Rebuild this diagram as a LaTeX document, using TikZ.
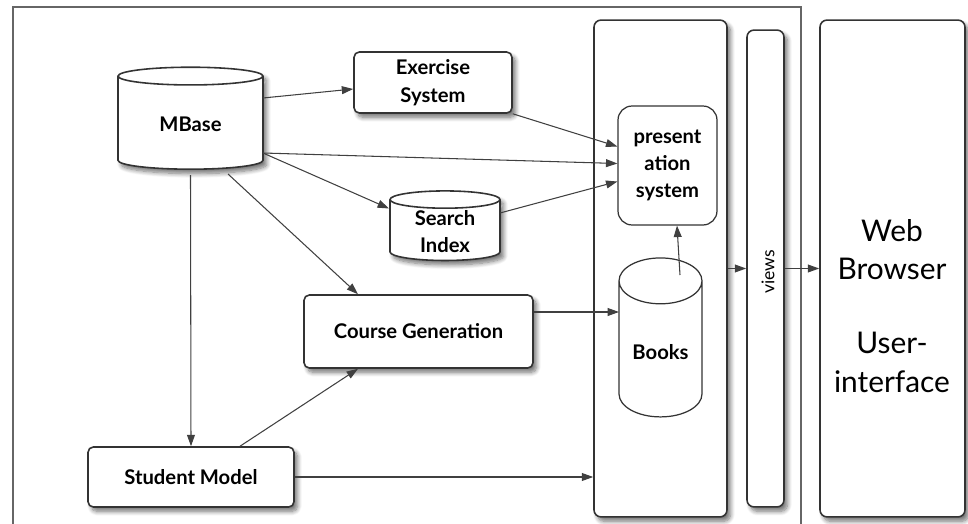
\documentclass[tikz,border=0pt]{standalone}
\usepackage{fontspec}
\setmainfont{Lato}
\usetikzlibrary{shapes.geometric,shadows.blur,arrows.meta,calc}

\begin{document}
\begin{tikzpicture}[
  x = 0.02cm, y = -0.02cm,
  shade/.style = {blur shadow = {shadow xshift = 2pt, shadow yshift = -2.5pt, shadow blur radius = 2.5pt, shadow blur steps = 8, shadow opacity = 55}},
  box/.style = {draw = black!80, line width = 0.9pt, fill = white, rounded corners = 3pt, align = center, font = \bfseries\fontsize{11.5}{16}\selectfont, shade},
  db/.style = {cylinder, shape border rotate = 90, draw = black!80, line width = 0.9pt, fill = white, align = center, inner sep = 1pt, font = \bfseries\fontsize{11.5}{15}\selectfont},
  lane/.style = {draw = black!80, line width = 0.9pt, fill = white, rounded corners = 4pt, shade},
  link/.style = {draw = black!75, line width = 0.6pt, -{Triangle[length = 6.5pt, width = 4.5pt]}}
]
  \useasboundingbox (0,0) rectangle (968,524);
  \draw[black!60, line width = 0.6pt] (13,524) -- (13,7) -- (801,7) -- (801,524);

  \node[lane, minimum width = 2.66cm, minimum height = 9.94cm] (layer) at (660.5,268.5) {};
  \node[lane, minimum width = 0.74cm, minimum height = 9.54cm] (views) at (765.5,268.5) {};
  \node[rotate = 90, font = \fontsize{10}{11}\selectfont] (viewstxt) at (768,272) {views};
  \node[lane, minimum width = 2.9cm, minimum height = 9.94cm] (web) at (892.5,268.5) {};
  \node[align = center, font = \fontsize{17}{22}\selectfont] (webtxt) at (892,306) {Web\\Browser\\[20pt]User-\\interface};

  \node[db, shade, minimum width = 2.9cm, minimum height = 2.04cm, aspect = 0.27] (mbase) at (190.5,124) {MBase};
  \node[box, minimum width = 3.16cm, minimum height = 1.22cm] (exercise) at (433,82.5) {Exercise\\System};
  \node[db, shade, minimum width = 2.2cm, minimum height = 1.14cm, aspect = 0.27] (search) at (445,231.5) {Search\\Index};
  \node[box, minimum width = 4.58cm, minimum height = 1.46cm] (course) at (418.5,331.5) {Course Generation};
  \node[box, minimum width = 4.12cm, minimum height = 1.2cm] (student) at (191,477) {Student Model};
  \node[draw = black!80, line width = 0.7pt, fill = white, rounded corners = 8pt, minimum width = 1.98cm, minimum height = 2.38cm,
        align = center, font = \bfseries\fontsize{11.5}{15.5}\selectfont] (pres) at (667.5,165.5) {present\\ation\\system};
  \node[db, line width = 0.7pt, minimum width = 1.66cm, minimum height = 3.18cm, aspect = 0.77] (books) at (660.5,352.5) {Books};

  \draw[link] ($(mbase.center)+(72.5,-26)$) -- ($(exercise.west)+(0,6.5)$);
  \draw[link] ($(mbase.center)+(72.5,29)$) -- ($(pres.west)+(0,-2)$);
  \draw[link] ($(mbase.center)+(72.5,29)$) -- ($(search.center)+(-56,-23)$);
  \draw[link] ($(mbase.center)+(37.5,50)$) -- ($(course.north)+(-60.5,0)$);
  \draw[link] ($(mbase.center)+(0,51)$) -- (student.north);
  \draw[link] (exercise.south east) -- ($(pres.west)+(0,-19)$);
  \draw[link] ($(search.center)+(55,-18.5)$) -- ($(pres.west)+(0,16)$);
  \draw[link] ($(student.north)+(49,0)$) -- ($(course.south)+(-60.5,0)$);
  \draw[link] (student.east) -- (student.east -| layer.west);
  \draw[link] ($(course.east)+(0,-19.5)$) -- ($(books.center)+(-41.5,-40.5)$);
  \draw[link] ($(books.center)+(19.5,-77.5)$) -- ($(pres.south)+(9.5,0)$);
  \draw[link] (layer.east) -- (views.west);
  \draw[link] (views.east) -- (web.west);
\end{tikzpicture}
\end{document}
